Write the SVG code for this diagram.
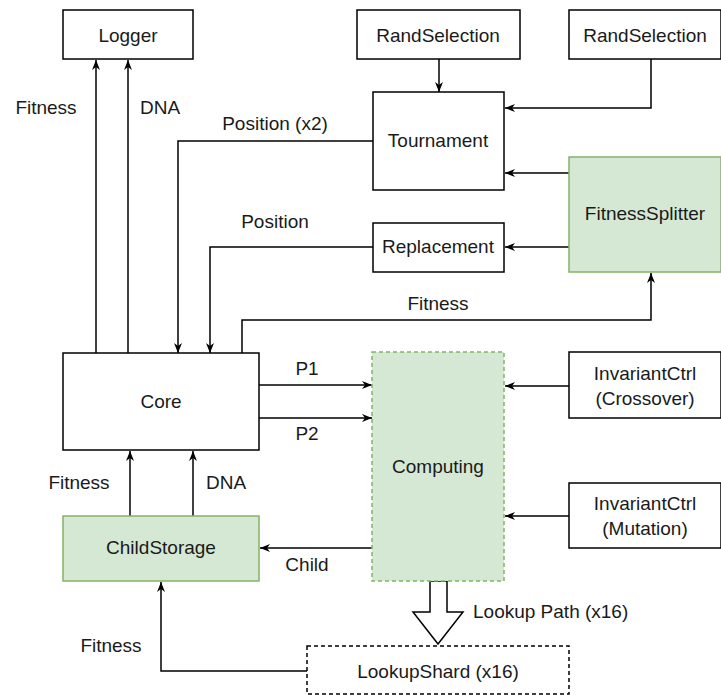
<svg xmlns="http://www.w3.org/2000/svg" width="721" height="695" viewBox="0 0 721 695">
<style>
text{font-family:"Liberation Sans",Arial,sans-serif;font-size:19px;fill:#1a1a1a;text-anchor:middle}
.box{fill:#fff;stroke:#000;stroke-width:1.5}
.green{fill:#d5e8d4;stroke:#82b366;stroke-width:1.5}
.dash{stroke-dasharray:4 3}
.c{fill:none;stroke:#000;stroke-width:1.5}
</style>
<defs>
<marker id="a" viewBox="0 0 10 10" refX="10" refY="5" markerWidth="10" markerHeight="10" markerUnits="userSpaceOnUse" orient="auto">
<path d="M0,1 L10,5 L0,9 L3,5 z" fill="#000"/>
</marker>
</defs>
<rect width="721" height="695" fill="#fff"/>
<g id="connectors">
<path class="c" d="M96,353 V60" marker-end="url(#a)"/>
<path class="c" d="M128,353 V60" marker-end="url(#a)"/>
<path class="c" d="M439,59 V92" marker-end="url(#a)"/>
<path class="c" d="M651,59 V108 H505" marker-end="url(#a)"/>
<path class="c" d="M569,173 H505" marker-end="url(#a)"/>
<path class="c" d="M569,247 H505" marker-end="url(#a)"/>
<path class="c" d="M373,141 H178 V353" marker-end="url(#a)"/>
<path class="c" d="M373,247 H210 V353" marker-end="url(#a)"/>
<path class="c" d="M242,353 V320 H651 V273" marker-end="url(#a)"/>
<path class="c" d="M259,385 H372" marker-end="url(#a)"/>
<path class="c" d="M259,418 H372" marker-end="url(#a)"/>
<path class="c" d="M569,386 H505" marker-end="url(#a)"/>
<path class="c" d="M569,516 H505" marker-end="url(#a)"/>
<path class="c" d="M372,548 H260" marker-end="url(#a)"/>
<path class="c" d="M130,516 V451" marker-end="url(#a)"/>
<path class="c" d="M193,516 V451" marker-end="url(#a)"/>
<path class="c" d="M307,671 H161 V582" marker-end="url(#a)"/>
<path d="M430,581 V612 H413 L438,644 L463,612 H447 V581 Z" fill="#fff" stroke="#000" stroke-width="1.5"/>
<text x="46" y="114">Fitness</text>
<text x="160" y="114">DNA</text>
<text x="275" y="130">Position (x2)</text>
<text x="275" y="228">Position</text>
<text x="438" y="310">Fitness</text>
<text x="307" y="375">P1</text>
<text x="307" y="440">P2</text>
<text x="79" y="489">Fitness</text>
<text x="226" y="489">DNA</text>
<text x="307" y="571">Child</text>
<text x="111" y="652">Fitness</text>
<text x="473" y="618" style="text-anchor:start">Lookup Path (x16)</text>
</g>
<g id="logger"><rect class="box" x="63" y="10" width="130" height="49"/><text x="128" y="42">Logger</text></g>
<g id="randsel1"><rect class="box" x="357" y="10" width="163" height="49"/><text x="438" y="42">RandSelection</text></g>
<g id="randsel2"><rect class="box" x="569" y="10" width="152" height="49"/><text x="645" y="42">RandSelection</text></g>
<g id="tournament"><rect class="box" x="373" y="92" width="131" height="98"/><text x="438" y="147">Tournament</text></g>
<g id="fitnesssplitter"><rect class="green" x="569" y="157" width="152" height="115"/><text x="645" y="220">FitnessSplitter</text></g>
<g id="replacement"><rect class="box" x="373" y="223" width="131" height="49"/><text x="438" y="253">Replacement</text></g>
<g id="core"><rect class="box" x="63" y="353" width="196" height="97"/><text x="161" y="408">Core</text></g>
<g id="computing"><rect class="green dash" x="372" y="352" width="132" height="229"/><text x="438" y="473">Computing</text></g>
<g id="invcross"><rect class="box" x="569" y="352" width="152" height="66"/><text x="645" y="380">InvariantCtrl</text><text x="645" y="405">(Crossover)</text></g>
<g id="invmut"><rect class="box" x="569" y="483" width="152" height="65"/><text x="645" y="510">InvariantCtrl</text><text x="645" y="535">(Mutation)</text></g>
<g id="childstorage"><rect class="green" x="63" y="516" width="196" height="65"/><text x="161" y="554">ChildStorage</text></g>
<g id="lookupshard"><rect class="box dash" x="307" y="646" width="262" height="48"/><text x="438" y="678">LookupShard (x16)</text></g>
</svg>
